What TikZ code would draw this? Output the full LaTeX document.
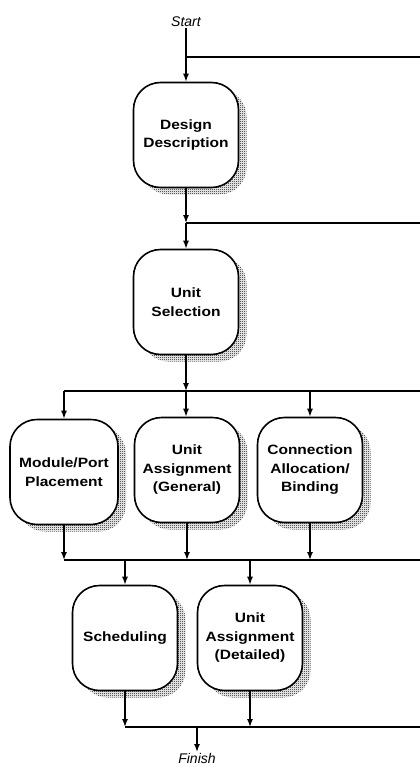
\documentclass[tikz,border=0pt]{standalone}
\usepackage{fontspec}
\setmainfont{Liberation Sans}
\newfontfamily\boxfont[FakeStretch=1.15]{Liberation Sans Bold}
\usetikzlibrary{patterns,arrows.meta,shadows}

% fine checkerboard stipple for the box shadows
\pgfdeclarepatternformonly{stipple}{\pgfpoint{0pt}{0pt}}{\pgfpoint{2pt}{2pt}}{\pgfpoint{2pt}{2pt}}{%
  \pgfpathrectangle{\pgfpoint{0pt}{0pt}}{\pgfpoint{1pt}{1pt}}%
  \pgfpathrectangle{\pgfpoint{1pt}{1pt}}{\pgfpoint{1pt}{1pt}}%
  \pgfusepath{fill}}

\tikzset{
  stage/.style={draw, line width=1.6pt, rounded corners=27pt, fill=white,
    minimum width=105pt, minimum height=105pt, inner sep=0pt, align=center,
    font=\boxfont\fontsize{13.5}{18.5}\selectfont,
    general shadow={shadow xshift=8pt, shadow yshift=-7pt, draw=none,
      pattern=stipple, pattern color=black}},
  term/.style={font=\itshape\fontsize{14}{16}\selectfont, inner sep=1pt},
  wire/.style={line width=1.4pt},
  flow/.style={line width=1.4pt, -{Latex[length=8pt,width=6pt]}},
}

\begin{document}
\begin{tikzpicture}[x=1pt,y=-1pt]
  \useasboundingbox (0,0) rectangle (420,768);
  \fill[white] (0,0) rectangle (420,768);

  % terminals
  \node[term, anchor=south] (start) at (186,28) {Start};
  \node[term, anchor=north] (finish) at (197,752) {Finish};

  % process stages
  \node[stage] (dd) at (186,135) {Design\\Description};
  \node[stage] (us) at (186,302) {Unit\\Selection};
  \node[stage, minimum width=108pt] (mp) at (64,472) {Module/Port\\Placement};
  \node[stage] (ua) at (187,470) {Unit\\Assignment\\(General)};
  \node[stage] (ca) at (310,470) {Connection\\Allocation/\\Binding};
  \node[stage] (sc) at (125,638) {Scheduling};
  \node[stage] (ud) at (250,638) {Unit\\Assignment\\(Detailed)};

  % junction points on the feedback buses
  \coordinate (j1) at (186,57);    \coordinate (r1) at (420,57);
  \coordinate (j2) at (186,223);   \coordinate (r2) at (420,223);
  \coordinate (j3) at (186,391);   \coordinate (r3) at (420,391);
  \coordinate (j3l) at (64,391);   \coordinate (j3r) at (310,391);
  \coordinate (j4l) at (64,560);   \coordinate (r4) at (420,560);
  \coordinate (k1) at (125,560);   \coordinate (k2) at (250,560);
  \coordinate (j5l) at (125,727);  \coordinate (r5) at (420,727);
  \coordinate (f) at (197,727);

  % top section
  \draw[flow] (start) -- (dd);
  \draw[wire] (j1) -- (r1);
  \draw[flow] (dd) -- (j2);
  \draw[wire] (j2) -- (r2);
  \draw[flow] (j2) -- (us);

  % fan-out to the three parallel stages
  \draw[flow] (us) -- (j3);
  \draw[wire] (j3l) -- (r3);
  \draw[flow] (j3l) -- (mp);
  \draw[flow] (j3) -- (j3 |- ua.north);
  \draw[flow] (j3r) -- (ca);

  % merge into the lower bus
  \draw[flow] (mp) -- (mp.south |- j4l);
  \draw[flow] (ua) -- (ua.south |- j4l);
  \draw[flow] (ca) -- (ca.south |- j4l);
  \draw[wire] (j4l) -- (r4);
  \draw[flow] (k1) -- (sc);
  \draw[flow] (k2) -- (ud);

  % final merge
  \draw[flow] (sc) -- (sc.south |- j5l);
  \draw[flow] (ud) -- (ud.south |- j5l);
  \draw[wire] (j5l) -- (r5);
  \draw[flow] (f) -- (finish);
\end{tikzpicture}
\end{document}
